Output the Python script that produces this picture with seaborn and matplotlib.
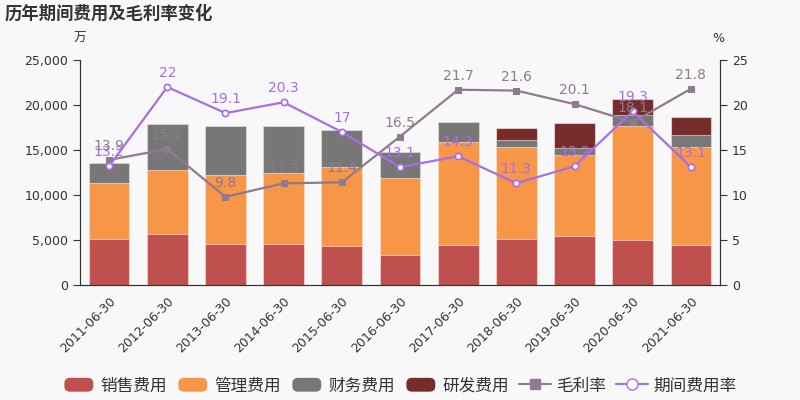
import numpy as np
import pandas as pd
import matplotlib
matplotlib.use('Agg')
import matplotlib.pyplot as plt
from matplotlib.patches import FancyBboxPatch
from matplotlib.lines import Line2D
from matplotlib.legend_handler import HandlerPatch
import matplotlib.patches as mpatches
import seaborn as sns

dates = ['2011-06-30', '2012-06-30', '2013-06-30', '2014-06-30', '2015-06-30', '2016-06-30',
         '2017-06-30', '2018-06-30', '2019-06-30', '2020-06-30', '2021-06-30']
sales = [5100, 5670, 4560, 4560, 4330, 3330, 4440, 5110, 5410, 5000, 4480]
admin = [6230, 7070, 7630, 7850, 8780, 8520, 11410, 10220, 9030, 12670, 10850]
finance = [2250, 5110, 5510, 5260, 4110, 2960, 2260, 740, 740, 1220, 1340]
rnd = [0, 0, 0, 0, 0, 0, 0, 1370, 2820, 1810, 1960]
gross_margin = [13.9, 15.1, 9.8, 11.3, 11.4, 16.5, 21.7, 21.6, 20.1, 18.1, 21.8]
period_rate = [13.2, 22, 19.1, 20.3, 17, 13.1, 14.3, 11.3, 13.2, 19.3, 13.1]

series_names = ['销售费用', '管理费用', '财务费用', '研发费用']
colors = ['#c0504d', '#f79646', '#777777', '#772c2a']
gm_color = '#8f7b8f'
pr_color = '#a86ee8'

sns.set_style('white')
plt.rcParams['font.family'] = ['DejaVu Sans', 'Noto Sans CJK SC']
plt.rcParams['axes.unicode_minus'] = False
CJK = ['Noto Sans CJK SC', 'DejaVu Sans']

df = pd.DataFrame({'date': dates, 's': sales, 'a': admin, 'f': finance, 'r': rnd})
df['c1'] = df['s']
df['c2'] = df['c1'] + df['a']
df['c3'] = df['c2'] + df['f']
df['c4'] = df['c3'] + df['r']

fig = plt.figure(figsize=(8, 4), dpi=100, facecolor='#f8f8f8')
ax = fig.add_axes([0.1, 0.2875, 0.8, 0.5625])
ax.set_facecolor('#f8f8f8')

# stacks drawn from the top down so lower segments cover the upper ones
for col, c in zip(['c4', 'c3', 'c2', 'c1'], colors[::-1]):
    sns.barplot(data=df, x='date', y=col, color=c, width=0.7, ax=ax,
                edgecolor='#ffffff80', linewidth=0.8, saturation=1)

ax.set_xlim(-0.5, 10.5)
ax.set_ylim(0, 25000)
ax.set_yticks(np.arange(0, 25001, 5000))
ax.set_yticklabels([f'{v:,}' for v in range(0, 25001, 5000)])
ax.set_xlabel('')
ax.set_ylabel('')
ax.set_xticks(range(len(dates)))
ax.set_xticklabels(dates, rotation=45, ha='right', rotation_mode='anchor')
ax.tick_params(axis='x', length=0, pad=7, labelsize=9, colors='#333333')
ax.set_xticks(np.arange(-0.5, 11, 1), minor=True)
ax.tick_params(axis='x', which='minor', length=5, color='#333333')
ax.tick_params(axis='y', length=5, labelsize=9, colors='#333333', direction='out')
ax.spines['top'].set_visible(False)
for s in ['left', 'bottom', 'right']:
    ax.spines[s].set_color('#333333')

ax2 = ax.twinx()
x = np.arange(len(dates))
sns.lineplot(x=x, y=gross_margin, ax=ax2, color=gm_color, marker='s', markersize=5,
             markeredgecolor=gm_color, linewidth=1.6)
sns.lineplot(x=x, y=period_rate, ax=ax2, color=pr_color, marker='o', markersize=4.5,
             markerfacecolor='white', markeredgecolor=pr_color, markeredgewidth=1.2, linewidth=1.6)
ax2.set_ylim(0, 25)
ax2.set_yticks(range(0, 26, 5))
ax2.tick_params(axis='y', length=5, labelsize=9, colors='#333333', direction='out')
ax2.spines['top'].set_visible(False)
for s in ['left', 'bottom', 'right']:
    ax2.spines[s].set_color('#333333')

for i in x:
    ax2.annotate(f'{gross_margin[i]:g}', (i, gross_margin[i]), xytext=(0, 5),
                 textcoords='offset points', ha='center', va='bottom', color=gm_color, fontsize=10)
    ax2.annotate(f'{period_rate[i]:g}', (i, period_rate[i]), xytext=(0, 5),
                 textcoords='offset points', ha='center', va='bottom', color=pr_color, fontsize=10)

fig.text(0.006, 0.965, '历年期间费用及毛利率变化', fontsize=12.5, fontweight='bold',
         color='#333333', va='center', ha='left', family=CJK)
fig.text(0.1, 0.905, '万', fontsize=9, color='#333333', ha='center', va='center', family=CJK)
fig.text(0.898, 0.905, '%', fontsize=9, color='#333333', ha='center', va='center')


class RoundHandler(HandlerPatch):
    def create_artists(self, legend, orig_handle, xdescent, ydescent, width, height, fontsize, trans):
        p = FancyBboxPatch((-xdescent + 1, -ydescent), width - 2, height,
                           boxstyle='round,pad=0,rounding_size=4',
                           facecolor=orig_handle.get_facecolor(), edgecolor='none', transform=trans)
        return [p]


handles = [mpatches.Patch(facecolor=c, label=n) for c, n in zip(colors, series_names)]
handles.append(Line2D([], [], color=gm_color, marker='s', markersize=7, linewidth=1.5, label='毛利率'))
handles.append(Line2D([], [], color=pr_color, marker='o', markersize=8, markerfacecolor='white',
                      markeredgecolor=pr_color, linewidth=1.5, label='期间费用率'))
hm = {h: RoundHandler() for h in handles[:4]}
fig.legend(handles=handles, handler_map=hm, loc='center', bbox_to_anchor=(0.5, 0.035), ncol=6,
           frameon=False, handlelength=1.9, handleheight=0.9, columnspacing=0.6,
           handletextpad=0.35, labelcolor='#333333', prop={'family': CJK, 'size': 12})

fig.savefig('out.png', dpi=100, facecolor=fig.get_facecolor())
